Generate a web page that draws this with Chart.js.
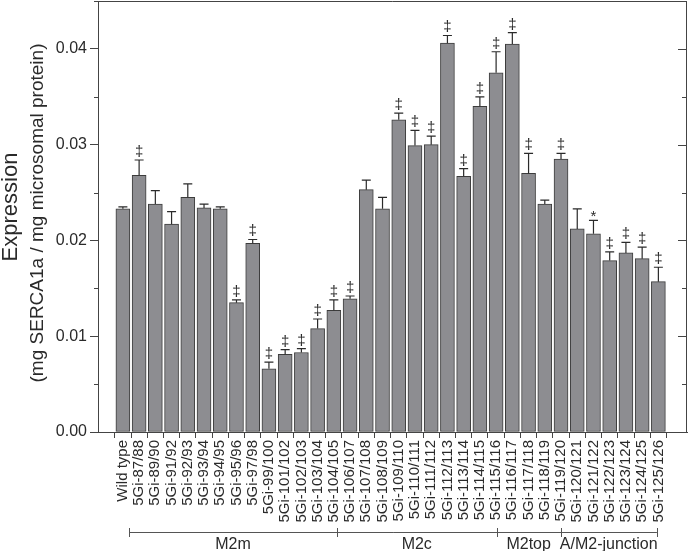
<!DOCTYPE html>
<html lang="en">
    <head>
        <meta charset="utf-8" />
        <script src="https://cdn.jsdelivr.net/npm/chart.js@4.4.0/dist/chart.umd.min.js"></script>
        <title>SERCA1a expression</title>
        <style>
            html, body { margin: 0; padding: 0; background: #fff; }
            #wrap { width: 688px; height: 551px; position: relative; }
        </style>
    </head>
    <body>
        <div id="wrap"><canvas id="barras"></canvas></div>
        <script>
            var categorias = ["Wild type", "5Gi-87/88", "5Gi-89/90", "5Gi-91/92", "5Gi-92/93", "5Gi-93/94", "5Gi-94/95",
                "5Gi-95/96", "5Gi-97/98", "5Gi-99/100", "5Gi-101/102", "5Gi-102/103", "5Gi-103/104", "5Gi-104/105",
                "5Gi-106/107", "5Gi-107/108", "5Gi-108/109", "5Gi-109/110", "5Gi-110/111", "5Gi-111/112", "5Gi-112/113",
                "5Gi-113/114", "5Gi-114/115", "5Gi-115/116", "5Gi-116/117", "5Gi-117/118", "5Gi-118/119", "5Gi-119/120",
                "5Gi-120/121", "5Gi-121/122", "5Gi-122/123", "5Gi-123/124", "5Gi-124/125", "5Gi-125/126"];
            var expresion = [0.0233, 0.0268, 0.0238, 0.0217, 0.0245, 0.0234, 0.0233,
                0.0135, 0.0197, 0.0066, 0.0081, 0.0083, 0.0108, 0.0127,
                0.0139, 0.0253, 0.0233, 0.0326, 0.0299, 0.0300, 0.0406,
                0.0267, 0.0340, 0.0375, 0.0405, 0.0270, 0.0238, 0.0285,
                0.0212, 0.0207, 0.0179, 0.0187, 0.0181, 0.0157];
            var errores = [0.0002, 0.0016, 0.0014, 0.0013, 0.0014, 0.0004, 0.0002,
                0.0003, 0.0004, 0.0007, 0.0005, 0.0004, 0.0010, 0.0011,
                0.0003, 0.0010, 0.0012, 0.0007, 0.0016, 0.0009, 0.0008,
                0.0008, 0.0010, 0.0022, 0.0012, 0.0021, 0.0004, 0.0006,
                0.0021, 0.0014, 0.0009, 0.0011, 0.0012, 0.0015];
            var marcas = ["", "‡", "", "", "", "", "",
                "‡", "‡", "‡", "‡", "‡", "‡", "‡",
                "‡", "", "", "‡", "‡", "‡", "‡",
                "‡", "‡", "‡", "‡", "‡", "", "‡",
                "", "*", "‡", "‡", "‡", "‡"];
            var ticksY = [0, 0.01, 0.02, 0.03, 0.04];
            var ticksMenoresY = [0.005, 0.015, 0.025, 0.035, 0.045];
            var grupos = ["M2m", "M2c", "M2top", "A/M2-junction"];
            var limitesGrupos = [0.4, 13.18, 23.04, 26.97, 32.91];

            var fuente = '"Liberation Sans", Arial, sans-serif';
            var tinta = "#2a2a2a";

            // marco, ticks menores, barras de error, marcas y grupos
            var extras = {
                id: "extras",
                afterDatasetsDraw(chart) {
                    var ctx = chart.ctx, a = chart.chartArea;
                    var xs = chart.scales.x, ys = chart.scales.y;
                    ctx.save();
                    ctx.strokeStyle = "#444";
                    ctx.lineWidth = 1;
                    ctx.beginPath();
                    ctx.moveTo(a.left, a.top + 0.5);
                    ctx.lineTo(a.right - 0.5, a.top + 0.5);
                    ctx.lineTo(a.right - 0.5, a.bottom);
                    ctx.stroke();
                    ctx.beginPath();
                    ticksY.forEach(v => {
                        var y = Math.round(ys.getPixelForValue(v)) + 0.5;
                        ctx.moveTo(a.right, y); ctx.lineTo(a.right - 9, y);
                    });
                    ticksMenoresY.forEach(v => {
                        var y = Math.round(ys.getPixelForValue(v)) + 0.5;
                        ctx.moveTo(a.right, y); ctx.lineTo(a.right - 5, y);
                        ctx.moveTo(a.left, y); ctx.lineTo(a.left - 4, y);
                    });
                    ctx.stroke();

                    ctx.strokeStyle = tinta;
                    ctx.lineWidth = 1.2;
                    ctx.fillStyle = tinta;
                    ctx.textAlign = "center";
                    ctx.textBaseline = "alphabetic";
                    expresion.forEach((v, i) => {
                        var x = xs.getPixelForValue(i);
                        var y0 = ys.getPixelForValue(v);
                        var y1 = ys.getPixelForValue(v + errores[i]);
                        ctx.beginPath();
                        ctx.moveTo(x, y0); ctx.lineTo(x, y1);
                        ctx.moveTo(x - 4.5, y1); ctx.lineTo(x + 4.5, y1);
                        ctx.stroke();
                        if (marcas[i]) {
                            ctx.font = "15px " + fuente;
                            ctx.fillText(marcas[i], x, y1 - 4 + (marcas[i] == "*" ? 5 : 0));
                        }
                    });

                    // llaves de grupos
                    var yl = 532.5;
                    ctx.strokeStyle = "#555";
                    ctx.lineWidth = 1;
                    ctx.beginPath();
                    var xa = xs.getPixelForValue(limitesGrupos[0]);
                    var xb = xs.getPixelForValue(limitesGrupos[limitesGrupos.length - 1]);
                    ctx.moveTo(xa, yl); ctx.lineTo(xb, yl);
                    limitesGrupos.forEach(g => {
                        var x = Math.round(xs.getPixelForValue(g)) + 0.5;
                        ctx.moveTo(x, yl - 4.5); ctx.lineTo(x, yl + 4.5);
                    });
                    ctx.stroke();
                    ctx.font = "16px " + fuente;
                    ctx.fillStyle = tinta;
                    grupos.forEach((g, k) => {
                        var m = (limitesGrupos[k] + limitesGrupos[k + 1]) / 2;
                        ctx.fillText(g, xs.getPixelForValue(m), 549);
                    });

                    // titulo del eje y
                    ctx.save();
                    ctx.translate(11, 207);
                    ctx.rotate(-Math.PI / 2);
                    ctx.textBaseline = "middle";
                    ctx.font = "22px " + fuente;
                    ctx.fillText("Expression", 0, 0);
                    ctx.restore();
                    ctx.save();
                    ctx.translate(38, 213);
                    ctx.rotate(-Math.PI / 2);
                    ctx.textBaseline = "middle";
                    ctx.font = "19px " + fuente;
                    ctx.fillText("(mg SERCA1a / mg microsomal protein)", 0, 0);
                    ctx.restore();
                    ctx.restore();
                },
            };

            new Chart(document.getElementById("barras").getContext("2d"), {
                type: "bar",
                data: {
                    datasets: [
                        {
                            data: expresion.map((v, i) => ({ x: i, y: v })),
                            backgroundColor: "#8d8d91",
                            borderColor: "#3c3c3c",
                            borderWidth: 1,
                            borderSkipped: false,
                            barThickness: 14,
                        },
                    ],
                },
                options: {
                    responsive: true,
                    maintainAspectRatio: false,
                    animation: false,
                    layout: { padding: { top: 1, right: 1, left: 0, bottom: 0 } },
                    scales: {
                        x: {
                            type: "linear",
                            min: -1,
                            max: 34.23,
                            afterBuildTicks: function (s) {
                                s.ticks = categorias.map((c, i) => ({ value: i }));
                            },
                            afterFit: function (s) {
                                s.height = 119;
                                s.paddingLeft = 0; s.paddingRight = 0;
                            },
                            grid: { drawOnChartArea: false, tickLength: 6, tickColor: "#444" },
                            border: { color: "#444", width: 1 },
                            ticks: {
                                autoSkip: false,
                                minRotation: 90,
                                maxRotation: 90,
                                padding: 2,
                                color: tinta,
                                font: { family: fuente, size: 15 },
                                callback: function (v) { return categorias[v]; },
                            },
                        },
                        y: {
                            min: 0,
                            max: 0.045,
                            afterBuildTicks: function (s) {
                                s.ticks = ticksY.map(v => ({ value: v }));
                            },
                            afterFit: function (s) {
                                s.width = 98;
                                s.paddingTop = 0; s.paddingBottom = 0;
                            },
                            grid: { drawOnChartArea: false, tickLength: 8, tickColor: "#444" },
                            border: { color: "#444", width: 1 },
                            ticks: {
                                padding: 3,
                                color: tinta,
                                font: { family: fuente, size: 16 },
                                callback: function (v) { return v.toFixed(2); },
                            },
                        },
                    },
                    plugins: {
                        legend: { display: false },
                        tooltip: { enabled: false },
                    },
                },
                plugins: [extras],
            });
        </script>
    </body>
</html>
